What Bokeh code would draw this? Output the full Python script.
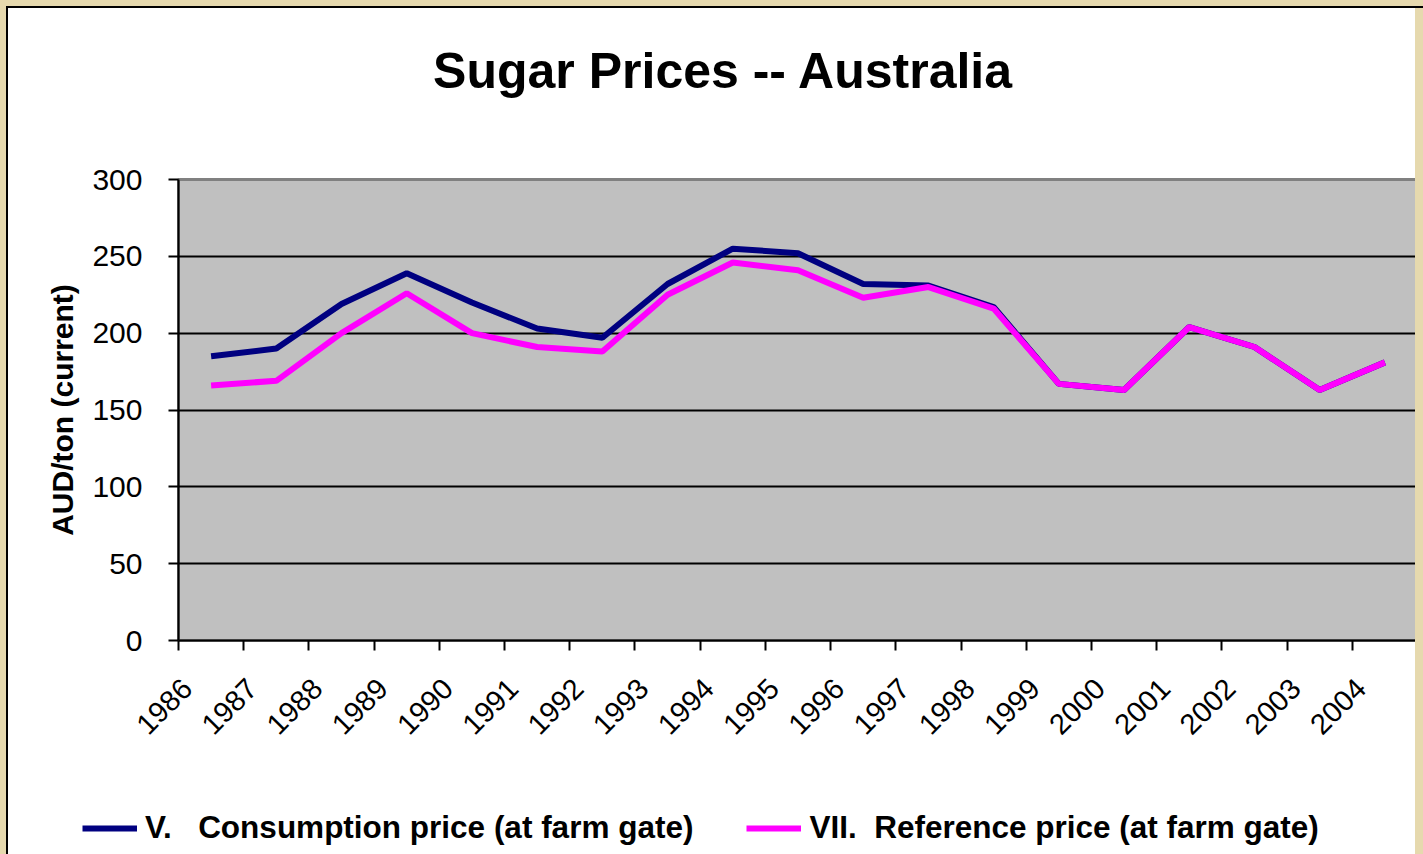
import math
from bokeh.plotting import figure
from bokeh.layouts import column
from bokeh.models import (FixedTicker, Label, Legend, LegendItem, Range1d, LinearAxis)
from bokeh.embed import file_html
from bokeh.resources import INLINE

# ---- data ----
years = ["1986", "1987", "1988", "1989", "1990", "1991", "1992", "1993", "1994", "1995",
         "1996", "1997", "1998", "1999", "2000", "2001", "2002", "2003", "2004"]
consumption = [185, 190, 219, 239, 220, 203, 197, 232, 255, 252, 232, 231, 217, 167, 163, 204, 191, 163, 181]
reference = [166, 169, 200, 226, 200, 191, 188, 225, 246, 241, 223, 230, 216, 167, 163, 204, 191, 163, 181]
y_ticks = [0, 50, 100, 150, 200, 250, 300]
title_text = "Sugar Prices -- Australia"
y_label = "AUD/ton (current)"
legend_labels = ["V.\u00a0\u00a0\u00a0Consumption price (at farm gate)",
                 "VII.\u00a0\u00a0Reference price (at farm gate)"]
series_colors = ["#000080", "#FF00FF"]

FONT = "Liberation Sans"
W = 1415
n = len(years)
xc = [i + 0.5 for i in range(n)]
label_shift = 0.13

# ---------- title strip ----------
pt = figure(width=W, height=100, output_backend="svg", toolbar_location=None,
            x_axis_type=None, y_axis_type=None, min_border=0, frame_align=False,
            x_range=Range1d(0, 1), y_range=Range1d(0, 1))
pt.background_fill_color = "white"
pt.border_fill_color = "white"
pt.outline_line_color = None
pt.grid.visible = False
pt.add_layout(Label(x=715, y=38, x_units="screen", y_units="screen", text=title_text,
                    text_align="center", text_baseline="middle",
                    text_font=FONT, text_font_size="50px", text_font_style="bold",
                    text_color="black"))

# ---------- main chart ----------
p = figure(width=W, height=678, output_backend="svg", toolbar_location=None,
           x_range=Range1d(0, n), y_range=Range1d(0, 300), frame_align=False,
           min_border_left=170, min_border_right=6, min_border_top=71, min_border_bottom=146)
p.background_fill_color = "#C0C0C0"
p.border_fill_color = "white"
p.outline_line_color = "#808080"
p.outline_line_width = 3

p.xgrid.visible = False
p.ygrid.ticker = FixedTicker(ticks=[t for t in y_ticks if 0 < t < 300])
p.ygrid.grid_line_color = "black"
p.ygrid.grid_line_width = 2

p.yaxis.ticker = FixedTicker(ticks=y_ticks)
p.yaxis.axis_line_color = "black"
p.yaxis.axis_line_width = 2
p.yaxis.major_tick_line_width = 2
p.yaxis.major_tick_in = 0
p.yaxis.major_tick_out = 10
p.yaxis.minor_tick_line_color = None
p.yaxis.major_label_standoff = 26
p.yaxis.major_label_text_font = FONT
p.yaxis.major_label_text_font_size = "30px"
p.yaxis.major_label_text_color = "black"
p.yaxis.axis_label = y_label
p.yaxis.axis_label_text_font = FONT
p.yaxis.axis_label_text_font_size = "30px"
p.yaxis.axis_label_text_font_style = "bold"
p.yaxis.axis_label_text_color = "black"
p.yaxis.axis_label_standoff = 10

# tick marks at category boundaries
p.xaxis.ticker = FixedTicker(ticks=list(range(n + 1)))
p.xaxis.major_label_overrides = {i: "" for i in range(n + 1)}
p.xaxis.major_label_standoff = 0
p.xaxis.axis_line_color = "black"
p.xaxis.axis_line_width = 2
p.xaxis.major_tick_line_width = 2
p.xaxis.major_tick_in = 0
p.xaxis.major_tick_out = 10
p.xaxis.minor_tick_line_color = None

# rotated category labels
p.extra_x_ranges = {"lab": Range1d(-label_shift, n - label_shift)}
lab_axis = LinearAxis(x_range_name="lab", ticker=FixedTicker(ticks=list(range(n))),
                      major_label_overrides={i: years[i] for i in range(n)})
lab_axis.axis_line_color = None
lab_axis.major_tick_line_color = None
lab_axis.minor_tick_line_color = None
lab_axis.major_tick_in = 0
lab_axis.major_tick_out = 0
lab_axis.major_label_orientation = math.pi / 4
lab_axis.major_label_standoff = 33
lab_axis.major_label_text_font = FONT
lab_axis.major_label_text_font_size = "29px"
lab_axis.major_label_text_color = "black"
p.add_layout(lab_axis, "below")

p.line(xc, consumption, line_color=series_colors[0], line_width=6)
p.line(xc, reference, line_color=series_colors[1], line_width=6)

# ---------- legend strip ----------
pl = figure(width=W, height=68, output_backend="svg", toolbar_location=None,
            x_axis_type=None, y_axis_type=None, min_border=0, frame_align=False,
            x_range=Range1d(0, n), y_range=Range1d(0, 1))
pl.background_fill_color = "white"
pl.border_fill_color = "white"
pl.outline_line_color = None
pl.grid.visible = False
# legend keys: same series, outside this strip's visible range (only the key glyph shows)
k1 = pl.line(xc, consumption, line_color=series_colors[0], line_width=6)
k2 = pl.line(xc, reference, line_color=series_colors[1], line_width=6)
legend = Legend(items=[LegendItem(label=legend_labels[0], renderers=[k1]),
                       LegendItem(label=legend_labels[1], renderers=[k2])],
                orientation="horizontal", location=(74, 8))
legend.glyph_width = 55
legend.label_standoff = 8
legend.spacing = 53
legend.padding = 0
legend.margin = 0
legend.border_line_color = None
legend.background_fill_alpha = 0
legend.label_text_font = FONT
legend.label_text_font_size = "31.5px"
legend.label_text_font_style = "bold"
legend.label_text_color = "black"
pl.add_layout(legend)

layout = column(pt, p, pl, spacing=0, styles={"background-color": "white"})

html = file_html(layout, INLINE)
head_end = html.rfind("</head>")
b = html.find("<body", head_end)
e = html.find(">", b)
body_style = ("margin:8px; overflow:hidden; "
              "background: linear-gradient(#000,#000) 6px 6px / 2px 100% no-repeat, "
              "linear-gradient(#000,#000) 6px 6px / 100% 2px no-repeat, #e6d9ae;")
html = html[:b] + '<body style="' + body_style + '"' + html[e:]
open("out.html", "w").write(html)
